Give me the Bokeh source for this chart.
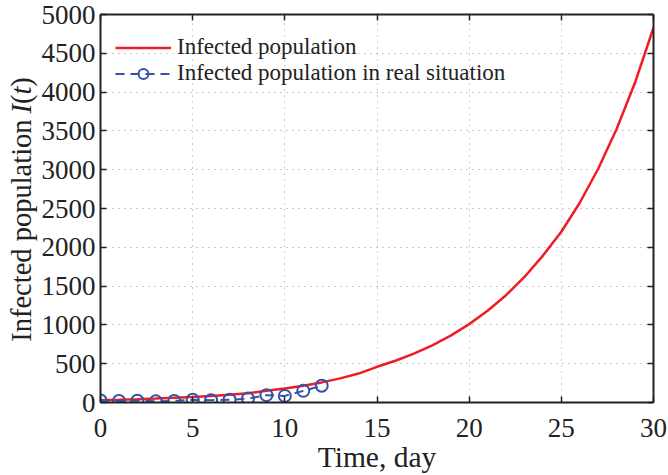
import math
from bokeh.plotting import figure
from bokeh.layouts import row
from bokeh.models import (Range1d, FixedTicker, LinearAxis, Legend, LegendItem)
from bokeh.core.properties import value
from bokeh.embed import file_html
from bokeh.resources import INLINE

# ---- data ----
model_days = list(range(0, 31))
model_infected = [30, 36, 43, 51, 60, 71, 85, 101, 120, 150, 180, 216, 259, 311,
                  373, 460, 538, 630, 737, 862, 1010, 1182, 1383, 1618, 1893,
                  2200, 2574, 3012, 3524, 4123, 4830]
real_days = list(range(0, 13))
real_infected = [25, 20, 22, 15, 20, 35, 30, 35, 50, 95, 85, 150, 215]

x_ticks = [0, 5, 10, 15, 20, 25, 30]
y_ticks = [0, 500, 1000, 1500, 2000, 2500, 3000, 3500, 4000, 4500, 5000]

FONT = "Liberation Serif"
RED = "#f01c24"
BLUE = "#3352a8"
AX = "#222222"

# ---- y-axis title panel (mixed upright / italic text) ----
LAB_W = 38
lab = figure(width=LAB_W, height=475, output_backend="svg", toolbar_location=None,
             x_range=Range1d(0, LAB_W), y_range=Range1d(71, 461),
             x_axis_location=None, y_axis_location=None,
             min_border=0, min_border_left=0, min_border_right=0,
             min_border_top=14, min_border_bottom=71)
lab.outline_line_color = None
lab.grid.visible = False
lab.background_fill_color = "white"
lab.border_fill_color = "white"

fs = 28.5
pieces = [("Infected population ", "normal", 8.054), ("I", "italic", 0.333),
          ("(", "normal", 0.333), ("t", "italic", 0.278), (")", "normal", 0.333)]
ypos = 132
for txt, style, em in pieces:
    lab.text(x=[21], y=[ypos], text=[txt], angle=math.pi / 2,
             text_font=value(FONT), text_font_style=value(style),
             text_font_size=value(f"{fs}px"), text_color=AX,
             text_align="left", text_baseline="alphabetic")
    ypos += em * fs

# ---- main plot ----
p = figure(width=668 - LAB_W, height=475, output_backend="svg", toolbar_location=None,
           x_range=Range1d(0, 30), y_range=Range1d(0, 5000),
           min_border_left=98 - LAB_W, min_border_right=15, min_border_top=14,
           min_border_bottom=71, x_axis_label="Time, day")
p.background_fill_color = "white"
p.border_fill_color = "white"
p.outline_line_color = None

for g in (p.xgrid, p.ygrid):
    g.grid_line_color = "#9a9a9a"
    g.grid_line_dash = "1 5"
    g.grid_line_width = 1
p.xgrid.ticker = FixedTicker(ticks=x_ticks)
p.ygrid.ticker = FixedTicker(ticks=y_ticks)


def style_axis(ax, ticks, show_labels=True):
    ax.ticker = FixedTicker(ticks=ticks)
    ax.axis_line_color = AX
    ax.axis_line_width = 2
    ax.major_tick_line_color = AX
    ax.major_tick_line_width = 1.5
    ax.major_tick_in = 6
    ax.major_tick_out = 0
    ax.minor_tick_line_color = None
    ax.major_label_text_font = FONT
    if show_labels:
        ax.major_label_text_color = AX
        ax.major_label_text_font_size = "27px"
    else:
        ax.major_label_text_color = None
        ax.major_label_text_font_size = "1px"
        ax.major_label_standoff = 0


style_axis(p.xaxis[0], x_ticks)
style_axis(p.yaxis[0], y_ticks)
p.xaxis[0].major_label_standoff = 16
p.yaxis[0].major_label_standoff = 5
p.xaxis[0].axis_label_text_font = FONT
p.xaxis[0].axis_label_text_font_style = "normal"
p.xaxis[0].axis_label_text_font_size = "29.5px"
p.xaxis[0].axis_label_text_color = AX
p.xaxis[0].axis_label_standoff = 1

top = LinearAxis()
right = LinearAxis()
style_axis(top, x_ticks, False)
style_axis(right, y_ticks, False)
p.add_layout(top, "above")
p.add_layout(right, "right")

r_model = p.line(model_days, model_infected, line_color=RED, line_width=2.5)
r_real_line = p.line(real_days, real_infected, line_color=BLUE, line_width=2,
                     line_dash="9 6")
r_real_pts = p.scatter(real_days, real_infected, marker="circle", size=12,
                       line_color=BLUE, line_width=2, fill_color=None)

legend = Legend(items=[
    LegendItem(label="Infected population", renderers=[r_model]),
    LegendItem(label="Infected population in real situation",
               renderers=[r_real_line, r_real_pts]),
], location=(15, 316))
legend.background_fill_alpha = 0
legend.border_line_color = None
legend.label_text_font = FONT
legend.label_text_font_size = "23px"
legend.label_text_color = AX
legend.glyph_width = 56
legend.glyph_height = 25
legend.label_height = 25
legend.label_standoff = 6
legend.spacing = 0
legend.padding = 0
legend.margin = 0
p.add_layout(legend, "center")

layout = row(lab, p)
open("out.html", "w").write(file_html(layout, INLINE))
